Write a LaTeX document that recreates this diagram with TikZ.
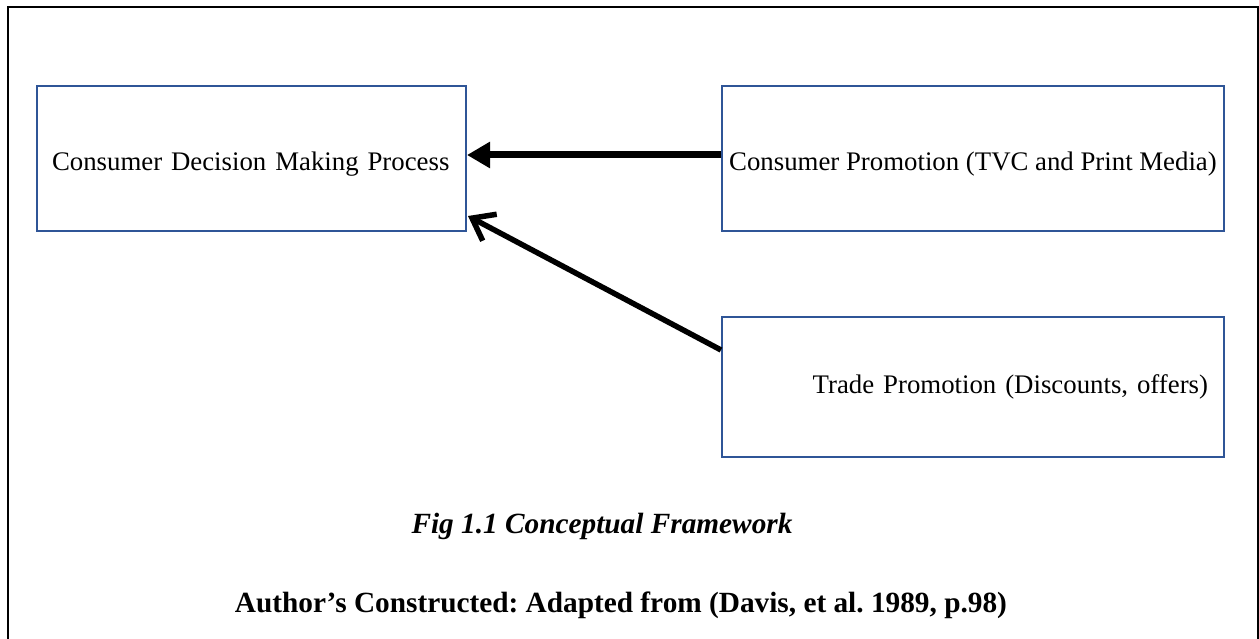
\documentclass[tikz,border=0pt]{standalone}
\usepackage{fontspec}
\setmainfont{Liberation Serif}
\usetikzlibrary{arrows.meta,positioning,calc}
\definecolor{boxblue}{HTML}{2F5597}

\begin{document}
\frenchspacing
\fontsize{26.8}{32}\selectfont
\begin{tikzpicture}[x=1pt,y=-1pt,
    box/.style={draw=boxblue, line width=2, minimum height=145, inner ysep=0},
    lowtext/.style={text height=25, text depth=0},
    link/.style={line width=#1, black},
    capfont/.style={font=\fontsize{29.3}{34}\selectfont\bfseries#1}]
    \useasboundingbox (0,0) rectangle (1259,639);

    % Frame (open at the bottom)
    \draw[line width=2.5] (8,639) -- (8,7) -- (1258,7) -- (1258,639);

    % Boxes
    \node[box, lowtext, text width=399, inner xsep=15, align=left] (decision) at (251.5,158.5)
        {Consumer Decision Making Process};
    \node[box, lowtext, minimum width=502, inner xsep=0] (consumer) at (973,158.5)
        {Consumer Promotion (TVC and Print Media)};
    \node[box, minimum height=140, text width=470, inner xsep=16, align=right] (trade) at (973,387)
        {Trade Promotion (Discounts, offers)};

    % Arrows
    \draw[link=7, -{Triangle[length=23,width=25]}]
        ([yshift=3.5]consumer.west) -- ([yshift=3.5]decision.east);
    \draw[link=5.5, -{Straight Barb[length=20,width=30]}]
        ($(trade.west)+(0,-37)$) -- ($(decision.south east)+(1,-16)$);

    % Caption
    \node[capfont=\itshape, anchor=base] (caption) at (602,533) {Fig 1.1 Conceptual Framework};
    \node[capfont, anchor=base] (source) at (621,612) {Author’s Constructed: Adapted from (Davis, et al. 1989, p.98)};
\end{tikzpicture}
\end{document}
